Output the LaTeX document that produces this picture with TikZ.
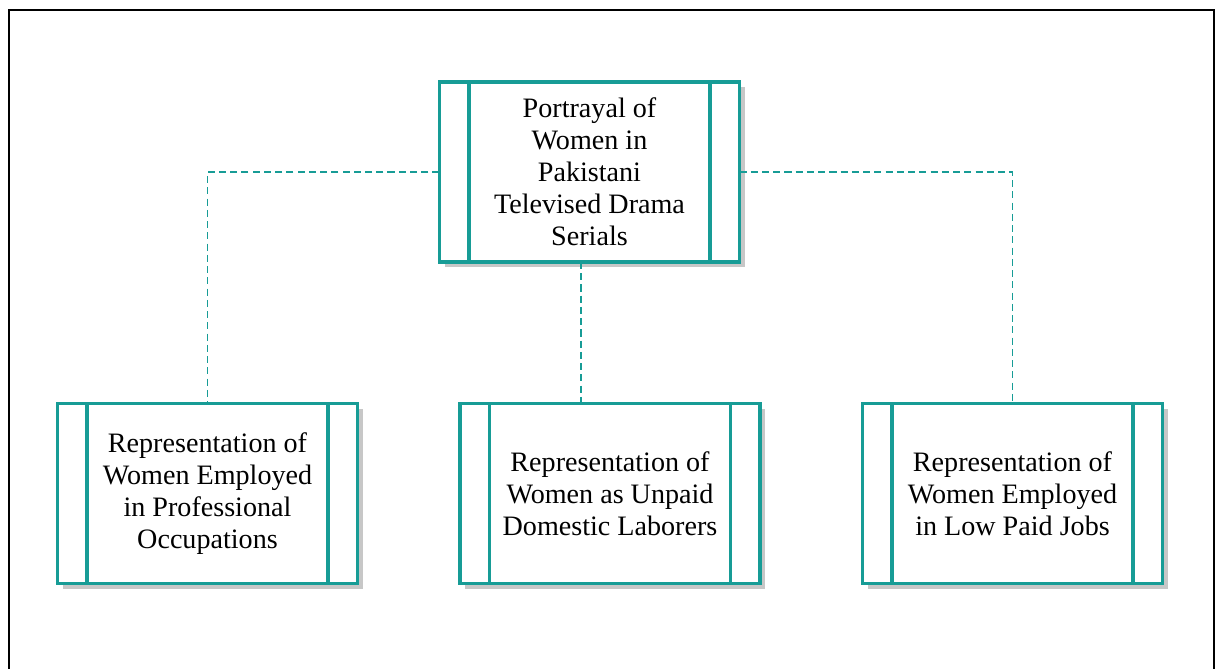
\documentclass[tikz,border=0pt]{standalone}
\usepackage{fontspec}
\setmainfont{Liberation Serif}
\usetikzlibrary{shadows}
\definecolor{tealline}{RGB}{23,156,150}
\tikzset{
  topicbox/.style={rectangle, draw=tealline, line width=2.4pt, fill=white,
    minimum width=7.5cm, minimum height=4.5cm, outer sep=0pt, align=center,
    font=\fontsize{20}{22.8}\selectfont,
    drop shadow={shadow xshift=0.13cm, shadow yshift=-0.13cm, fill=black!22, opacity=1}},
  sideline/.style={draw=tealline, line width=2.4pt},
  link/.style={draw=tealline, line width=1.3pt, dash pattern=on 5pt off 3pt}
}
\newcommand{\sidebars}[1]{%
  \draw[sideline] ([xshift=0.74cm]#1.north west) -- ([xshift=0.74cm]#1.south west);
  \draw[sideline] ([xshift=-0.74cm]#1.north east) -- ([xshift=-0.74cm]#1.south east);}
\begin{document}
\begin{tikzpicture}
    \useasboundingbox (0,0) rectangle (30.5,-16.725);
    \draw[line width=1.5pt] (0.225,-16.725) -- (0.225,-0.25) -- (30.35,-0.25) -- (30.35,-16.725);
    \node[topicbox] (top) at (14.7375,-4.3) {Portrayal of\\Women in\\Pakistani\\Televised Drama\\Serials};
    \node[topicbox] (prof) at (5.1875,-12.3375) {Representation of\\Women Employed\\in Professional\\Occupations};
    \node[topicbox] (unpaid) at (15.25,-12.3375) {Representation of\\Women as Unpaid\\Domestic Laborers};
    \node[topicbox] (low) at (25.3125,-12.3375) {Representation of\\Women Employed\\in Low Paid Jobs};
    \sidebars{top}
    \sidebars{prof}
    \sidebars{unpaid}
    \sidebars{low}
    \coordinate (mx) at (14.525,0);
    \draw[link] (top.west) -| (prof.north);
    \draw[link] (top.east) -| (low.north);
    \draw[link] (top.south -| mx) -- (unpaid.north -| mx);
\end{tikzpicture}
\end{document}
